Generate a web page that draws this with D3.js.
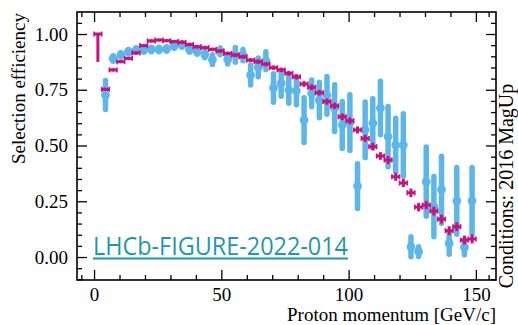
<!DOCTYPE html>
<html>
<head>
<meta charset="utf-8">
<script src="https://cdn.jsdelivr.net/npm/d3@7"></script>
<style>
  body { margin: 0; background: #fff; }
  text { font-family: "Liberation Serif", "DejaVu Serif", serif; }
</style>
</head>
<body>
<svg id="chart" width="518" height="325"></svg>
<script>
// proton momentum bins [GeV/c], 3 GeV wide
const binCentres = [1.5, 4.5, 7.5, 10.5, 13.5, 16.5, 19.5, 22.5, 25.5, 28.5,
  31.5, 34.5, 37.5, 40.5, 43.5, 46.5, 49.5, 52.5, 55.5, 58.5,
  61.5, 64.5, 67.5, 70.5, 73.5, 76.5, 79.5, 82.5, 85.5, 88.5,
  91.5, 94.5, 97.5, 100.5, 103.5, 106.5, 109.5, 112.5, 115.5, 118.5,
  121.5, 124.5, 127.5, 130.5, 133.5, 136.5, 139.5, 142.5, 145.5, 148.5];
const binHalfWidth = 1.5;

// magenta series (simulation)
const simEff = [1.0, 0.752, 0.839, 0.876, 0.891, 0.915, 0.948, 0.969, 0.973, 0.970,
  0.966, 0.963, 0.953, 0.943, 0.939, 0.931, 0.924, 0.913, 0.906, 0.898,
  0.883, 0.876, 0.865, 0.849, 0.839, 0.824, 0.808, 0.776, 0.761, 0.737,
  0.697, 0.678, 0.629, 0.611, 0.570, 0.532, 0.495, 0.453, 0.435, 0.360,
  0.332, 0.288, 0.224, 0.233, 0.206, 0.170, 0.118, 0.136, 0.076, 0.081];
const simErr = [0.125, 0.007, 0.007, 0.007, 0.007, 0.007, 0.007, 0.007, 0.007, 0.007,
  0.007, 0.008, 0.008, 0.008, 0.008, 0.008, 0.008, 0.008, 0.009, 0.009,
  0.009, 0.010, 0.010, 0.010, 0.010, 0.011, 0.012, 0.013, 0.013, 0.013,
  0.014, 0.014, 0.015, 0.015, 0.016, 0.016, 0.017, 0.017, 0.018, 0.018,
  0.018, 0.019, 0.019, 0.019, 0.020, 0.020, 0.020, 0.020, 0.020, 0.020];

// light blue series (data)
const dataEff = [null, 0.726, 0.890, 0.906, 0.921, 0.928, 0.928, 0.931, 0.931, 0.933,
  0.946, 0.951, 0.930, 0.921, 0.908, 0.885, 0.922, 0.886, 0.906, 0.905,
  0.816, 0.850, 0.880, 0.758, 0.779, 0.749, 0.745, 0.614, 0.734, 0.704,
  0.725, 0.668, 0.592, 0.603, 0.318, 0.570, 0.600, 0.668, 0.540, 0.502,
  0.502, 0.046, 0.024, 0.338, 0.226, 0.302, 0.061, 0.252, 0.043, 0.252];
const dataErr = [null, 0.065, 0.012, 0.010, 0.010, 0.010, 0.010, 0.010, 0.010, 0.010,
  0.010, 0.010, 0.012, 0.012, 0.015, 0.022, 0.015, 0.020, 0.033, 0.025,
  0.045, 0.042, 0.040, 0.064, 0.058, 0.060, 0.062, 0.100, 0.060, 0.080,
  0.085, 0.105, 0.105, 0.125, 0.100, 0.125, 0.110, 0.120, 0.135, 0.120,
  0.140, 0.045, 0.022, 0.155, 0.135, 0.150, 0.048, 0.150, 0.033, 0.150];

const xMajor = [0, 50, 100, 150];
const xMinor = [-5, 10, 20, 30, 40, 60, 70, 80, 90, 110, 120, 130, 140, 155];
const yMajor = [0, 0.25, 0.5, 0.75, 1.0];
const yMinor = [-0.1, -0.05, 0.05, 0.1, 0.15, 0.2, 0.3, 0.35, 0.4, 0.45, 0.55, 0.6, 0.65, 0.7, 0.8, 0.85, 0.9, 0.95, 1.05];

const svg = d3.select('#chart');
const plotL = 77, plotR = 496, plotT = 12, plotB = 280;

const x = d3.scaleLinear().domain([-6.7, 157.9]).range([plotL, plotR]);
const y = d3.scaleLinear().domain([-0.103, 1.0987]).range([plotB, plotT]);

svg.append('clipPath').attr('id', 'plotclip')
  .append('rect').attr('x', plotL).attr('y', plotT).attr('width', plotR - plotL).attr('height', plotB - plotT);

const plot = svg.append('g').attr('clip-path', 'url(#plotclip)');

// watermark
const wm = svg.append('g');
wm.append('text')
  .attr('x', 93).attr('y', 255)
  .attr('textLength', 255).attr('lengthAdjust', 'spacingAndGlyphs')
  .style('font-family', '"Open Sans", "Noto Sans", sans-serif')
  .style('font-size', '25px')
  .attr('fill', '#1f98a2')
  .text('LHCb-FIGURE-2022-014');
wm.append('line')
  .attr('x1', 93).attr('x2', 348).attr('y1', 258.5).attr('y2', 258.5)
  .attr('stroke', '#1f98a2').attr('stroke-width', 2);

// blue points
const blue = '#5db6e8';
const dataPts = binCentres.map((c, i) => ({ c, v: dataEff[i], e: dataErr[i] })).filter(d => d.v !== null);
plot.append('g').selectAll('line').data(dataPts).enter().append('line')
  .attr('x1', d => x(d.c)).attr('x2', d => x(d.c))
  .attr('y1', d => y(Math.max(0, d.v - d.e))).attr('y2', d => y(d.v + d.e))
  .attr('stroke', blue).attr('stroke-width', 5.5).attr('stroke-linecap', 'round');
plot.append('g').selectAll('circle').data(dataPts).enter().append('circle')
  .attr('cx', d => x(d.c)).attr('cy', d => y(d.v)).attr('r', 4.4)
  .attr('fill', blue);

// magenta points
const mag = '#c8117f';
const simPts = binCentres.map((c, i) => ({ c, v: simEff[i], e: simErr[i], first: i === 0 }));
const sg = plot.append('g').attr('stroke', mag).attr('stroke-width', 3).attr('fill', 'none');
sg.selectAll('.h').data(simPts).enter().append('line').attr('class', 'h')
  .attr('x1', d => x(d.c - binHalfWidth)).attr('x2', d => x(d.c + binHalfWidth))
  .attr('y1', d => y(d.v)).attr('y2', d => y(d.v));
sg.selectAll('.v').data(simPts).enter().append('line').attr('class', 'v')
  .attr('x1', d => x(d.c)).attr('x2', d => x(d.c))
  .attr('y1', d => y(d.v - d.e)).attr('y2', d => y(d.first ? d.v : d.v + d.e));
// bin edge caps
sg.selectAll('.cap').data(simPts.flatMap(d => [{ px: d.c - binHalfWidth, v: d.v }, { px: d.c + binHalfWidth, v: d.v }]))
  .enter().append('line').attr('class', 'cap').attr('stroke-width', 1.6)
  .attr('x1', d => x(d.px)).attr('x2', d => x(d.px))
  .attr('y1', d => y(d.v) - 2.5).attr('y2', d => y(d.v) + 2.5);

// axes (ticks inward on all sides)
function styleAxis(g) {
  g.select('.domain').remove();
  g.selectAll('.tick line').attr('stroke', '#000').attr('stroke-width', 1.3);
  g.selectAll('.tick text').attr('fill', '#000').style('font-size', '19px')
    .style('font-family', '"Liberation Serif", serif');
}
svg.append('g').attr('transform', `translate(0,${plotB})`)
  .call(d3.axisBottom(x).tickValues(xMajor).tickSize(-10).tickPadding(8).tickFormat(d3.format('d')))
  .call(styleAxis);
svg.append('g').attr('transform', `translate(0,${plotB})`)
  .call(d3.axisBottom(x).tickValues(xMinor).tickSize(-5).tickFormat(''))
  .call(styleAxis);
svg.append('g').attr('transform', `translate(0,${plotT})`)
  .call(d3.axisTop(x).tickValues(xMajor).tickSize(-10).tickFormat(''))
  .call(styleAxis);
svg.append('g').attr('transform', `translate(0,${plotT})`)
  .call(d3.axisTop(x).tickValues(xMinor).tickSize(-5).tickFormat(''))
  .call(styleAxis);
svg.append('g').attr('transform', `translate(${plotL},0)`)
  .call(d3.axisLeft(y).tickValues(yMajor).tickSize(-10).tickPadding(9).tickFormat(d3.format('.2f')))
  .call(styleAxis);
svg.append('g').attr('transform', `translate(${plotL},0)`)
  .call(d3.axisLeft(y).tickValues(yMinor).tickSize(-5).tickFormat(''))
  .call(styleAxis);
svg.append('g').attr('transform', `translate(${plotR},0)`)
  .call(d3.axisRight(y).tickValues(yMajor).tickSize(-10).tickFormat(''))
  .call(styleAxis);
svg.append('g').attr('transform', `translate(${plotR},0)`)
  .call(d3.axisRight(y).tickValues(yMinor).tickSize(-5).tickFormat(''))
  .call(styleAxis);

svg.append('rect')
  .attr('x', plotL).attr('y', plotT).attr('width', plotR - plotL).attr('height', plotB - plotT)
  .attr('fill', 'none').attr('stroke', '#000').attr('stroke-width', 1.6);

// axis titles
svg.append('text')
  .attr('x', plotR).attr('y', 321).attr('text-anchor', 'end')
  .style('font-size', '19px').text('Proton momentum [GeV/c]');
svg.append('text')
  .attr('transform', 'translate(25,13) rotate(-90)').attr('text-anchor', 'end')
  .style('font-size', '19px').text('Selection efficiency');
svg.append('text')
  .attr('transform', 'translate(513,186) rotate(-90)').attr('text-anchor', 'middle')
  .style('font-size', '20px').text('Conditions: 2016 MagUp');
</script>
</body>
</html>
